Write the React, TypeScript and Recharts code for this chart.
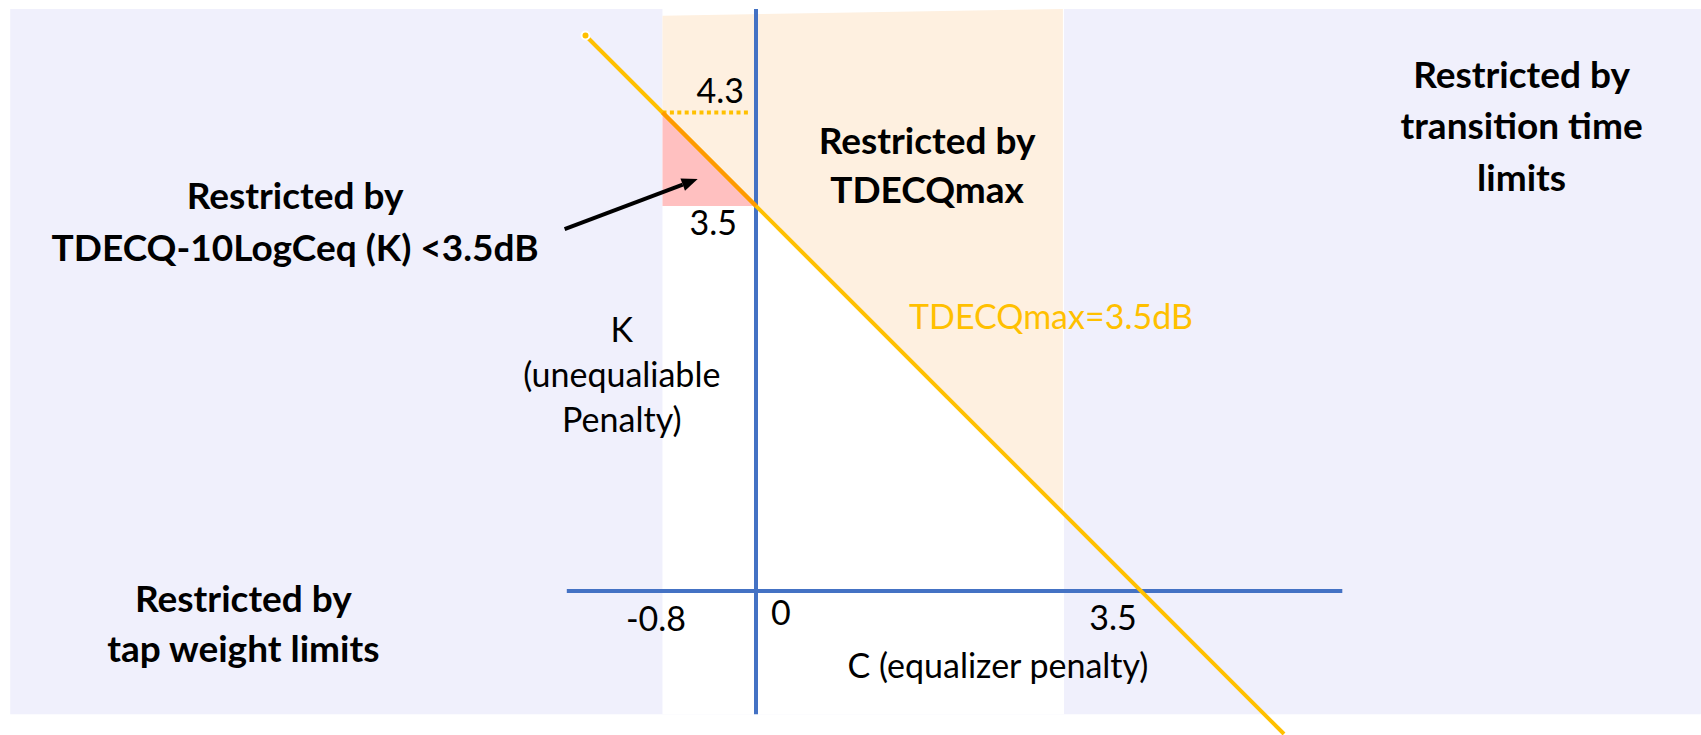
import React from 'react';
import {
  ComposedChart,
  Area,
  Line,
  XAxis,
  YAxis,
  ReferenceArea,
  ReferenceLine,
  ReferenceDot,
} from 'recharts';

// C = equalizer penalty, K = unequaliable penalty (dB)
const cTicks = [-0.8, 0, 3.5];
const cTickLabels = ['-0.8', '0', '3.5'];
const kTicks = [4.3, 3.5];
const kTickLabels = ['4.3', '3.5'];

// limits of the allowed (white) column
const tapLimitC = -0.85;
const transitionLimitC = 2.8;
const kLimit = 4.35;

// background panel and axes extents
const panelC = [-6.78, 8.59];
const panelK = [-1.12, 5.29];
const axisC = [-1.72, 5.33];

// TDECQmax = 3.5 dB line (K + C = 3.5)
const maxLineC = [-1.55, 4.8];
const maxLineK = [5.05, -1.3];
const kSegmentC = [-0.85, 0];
const kSegmentK = [4.35, 3.5];

// peach region: above the line, below the top edge
const peachC = [-0.85, 2.79];
const peachLowK = [4.35, 0.71];
const peachHighK = [5.23, 5.29];

// pink triangle
const pinkC = [-0.85, 0];
const pinkLowK = [3.5, 3.5];
const pinkHighK = [4.35, 3.5];

// arrow pointing into the pink triangle
const arrowC = [-1.74, -0.53];
const arrowK = [3.29, 3.745];

const maxLine = maxLineC.map((c, i) => ({ c, k: maxLineK[i] }));
const kSegment = kSegmentC.map((c, i) => ({ c, k: kSegmentK[i] }));
const peach = peachC.map((c, i) => ({ c, band: [peachLowK[i], peachHighK[i]] }));
const pink = pinkC.map((c, i) => ({ c, band: [pinkLowK[i], pinkHighK[i]] }));

const FONT = 'Lato, "Noto Sans", sans-serif';
const BLUE = '#4472C4';
const GOLD = '#FFC000';

const notes = [
  { c: -4.19, k: 3.47, lines: ['Restricted by', 'TDECQ-10LogCeq (K) <3.5dB'], bold: true, lh: 52, color: '#000', anchor: 'middle' },
  { c: -4.66, k: -0.19, lines: ['Restricted by', 'tap weight limits'], bold: true, lh: 50, color: '#000', anchor: 'middle' },
  { c: 1.555, k: 3.97, lines: ['Restricted by', 'TDECQmax'], bold: true, lh: 49, color: '#000', anchor: 'middle' },
  { c: 6.96, k: 4.573, lines: ['Restricted by', 'transition time', 'limits'], bold: true, lh: 51.5, color: '#000', anchor: 'middle' },
  { c: -1.22, k: 2.264, lines: ['K', '(unequaliable', 'Penalty)'], bold: false, lh: 45, color: '#000', anchor: 'middle' },
  { c: 1.391, k: 2.382, lines: ['TDECQmax=3.5dB'], bold: false, lh: 45, color: GOLD, anchor: 'start' },
  { c: 2.2, k: -0.791, lines: ['C (equalizer penalty)'], bold: false, lh: 45, color: '#000', anchor: 'middle' },
];

const cTickOffsets = [
  { dx: -12, dy: 40, anchor: 'middle' },
  { dx: 15, dy: 34, anchor: 'start' },
  { dx: -28, dy: 39, anchor: 'middle' },
];
const kTickOffsets = [
  { dx: -12, dy: -15, anchor: 'end' },
  { dx: -19, dy: 29, anchor: 'end' },
];

const textShape = (lines: string[], opts: any) => (p: any) => (
  <text
    x={p.cx + (opts.dx || 0)}
    y={p.cy + (opts.dy || 0)}
    textAnchor={opts.anchor}
    fontFamily={FONT}
    fontSize={opts.bold ? 37 : 34}
    fontWeight={opts.bold ? 700 : 400}
    fill={opts.color || '#000'}
  >
    {lines.map((t, i) => (
      <tspan key={i} x={p.cx + (opts.dx || 0)} dy={i === 0 ? 0 : opts.lh}>
        {t}
      </tspan>
    ))}
  </text>
);

const arrowShape = (p: any) => {
  const { x1, y1, x2, y2 } = p;
  const ang = Math.atan2(y2 - y1, x2 - x1);
  const len = 16;
  const w = 6.5;
  const bx = x2 - len * Math.cos(ang);
  const by = y2 - len * Math.sin(ang);
  const nx = -Math.sin(ang) * w;
  const ny = Math.cos(ang) * w;
  return (
    <g>
      <line x1={x1} y1={y1} x2={bx} y2={by} stroke="#000" strokeWidth={4} />
      <polygon points={`${x2},${y2} ${bx + nx},${by + ny} ${bx - nx},${by - ny}`} fill="#000" />
    </g>
  );
};

export default function App() {
  return (
    <div style={{ position: 'absolute', left: 0, top: 0, width: 1701, height: 735, background: '#fff' }}>
      <ComposedChart width={1701} height={735} margin={{ top: 0, right: 0, bottom: 0, left: 0 }}>
        <XAxis type="number" dataKey="c" domain={[-756 / 110, 945 / 110]} allowDataOverflow hide />
        <YAxis type="number" domain={[-144 / 110, 591 / 110]} allowDataOverflow hide />

        <ReferenceArea x1={panelC[0]} x2={panelC[1]} y1={panelK[0]} y2={panelK[1]} fill="#F0F0FC" fillOpacity={1} stroke="none" ifOverflow="hidden" />
        <ReferenceArea x1={tapLimitC} x2={transitionLimitC} y1={panelK[0]} y2={panelK[1]} fill="#FFFFFF" fillOpacity={1} stroke="none" ifOverflow="hidden" />

        <Area data={peach} dataKey="band" type="linear" fill="#FEF0E0" fillOpacity={1} stroke="none" isAnimationActive={false} />
        <Area data={pink} dataKey="band" type="linear" fill="#FFC0C0" fillOpacity={1} stroke="none" isAnimationActive={false} />

        <ReferenceLine segment={[{ x: 0, y: panelK[0] }, { x: 0, y: panelK[1] }]} stroke={BLUE} strokeWidth={4} />
        <ReferenceLine segment={[{ x: axisC[0], y: 0 }, { x: axisC[1], y: 0 }]} stroke={BLUE} strokeWidth={4} />
        <ReferenceLine
          segment={[{ x: tapLimitC, y: kLimit }, { x: -0.07, y: kLimit }]}
          stroke={GOLD}
          strokeWidth={4}
          strokeDasharray="4 3.4"
        />

        <Line data={maxLine} dataKey="k" type="linear" stroke={GOLD} strokeWidth={4} dot={false} isAnimationActive={false} />
        <Line data={kSegment} dataKey="k" type="linear" stroke="#FF9A00" strokeWidth={4} dot={false} isAnimationActive={false} />

        <ReferenceLine
          segment={[{ x: arrowC[0], y: arrowK[0] }, { x: arrowC[1], y: arrowK[1] }]}
          shape={arrowShape}
        />

        {cTicks.map((v, i) => (
          <ReferenceDot key={'c' + i} x={v} y={0} r={1} shape={textShape([cTickLabels[i]], cTickOffsets[i])} />
        ))}
        {kTicks.map((v, i) => (
          <ReferenceDot key={'k' + i} x={0} y={v} r={1} shape={textShape([kTickLabels[i]], kTickOffsets[i])} />
        ))}
        {notes.map((n, i) => (
          <ReferenceDot key={'n' + i} x={n.c} y={n.k} r={1} shape={textShape(n.lines, n)} />
        ))}
      </ComposedChart>
    </div>
  );
}
